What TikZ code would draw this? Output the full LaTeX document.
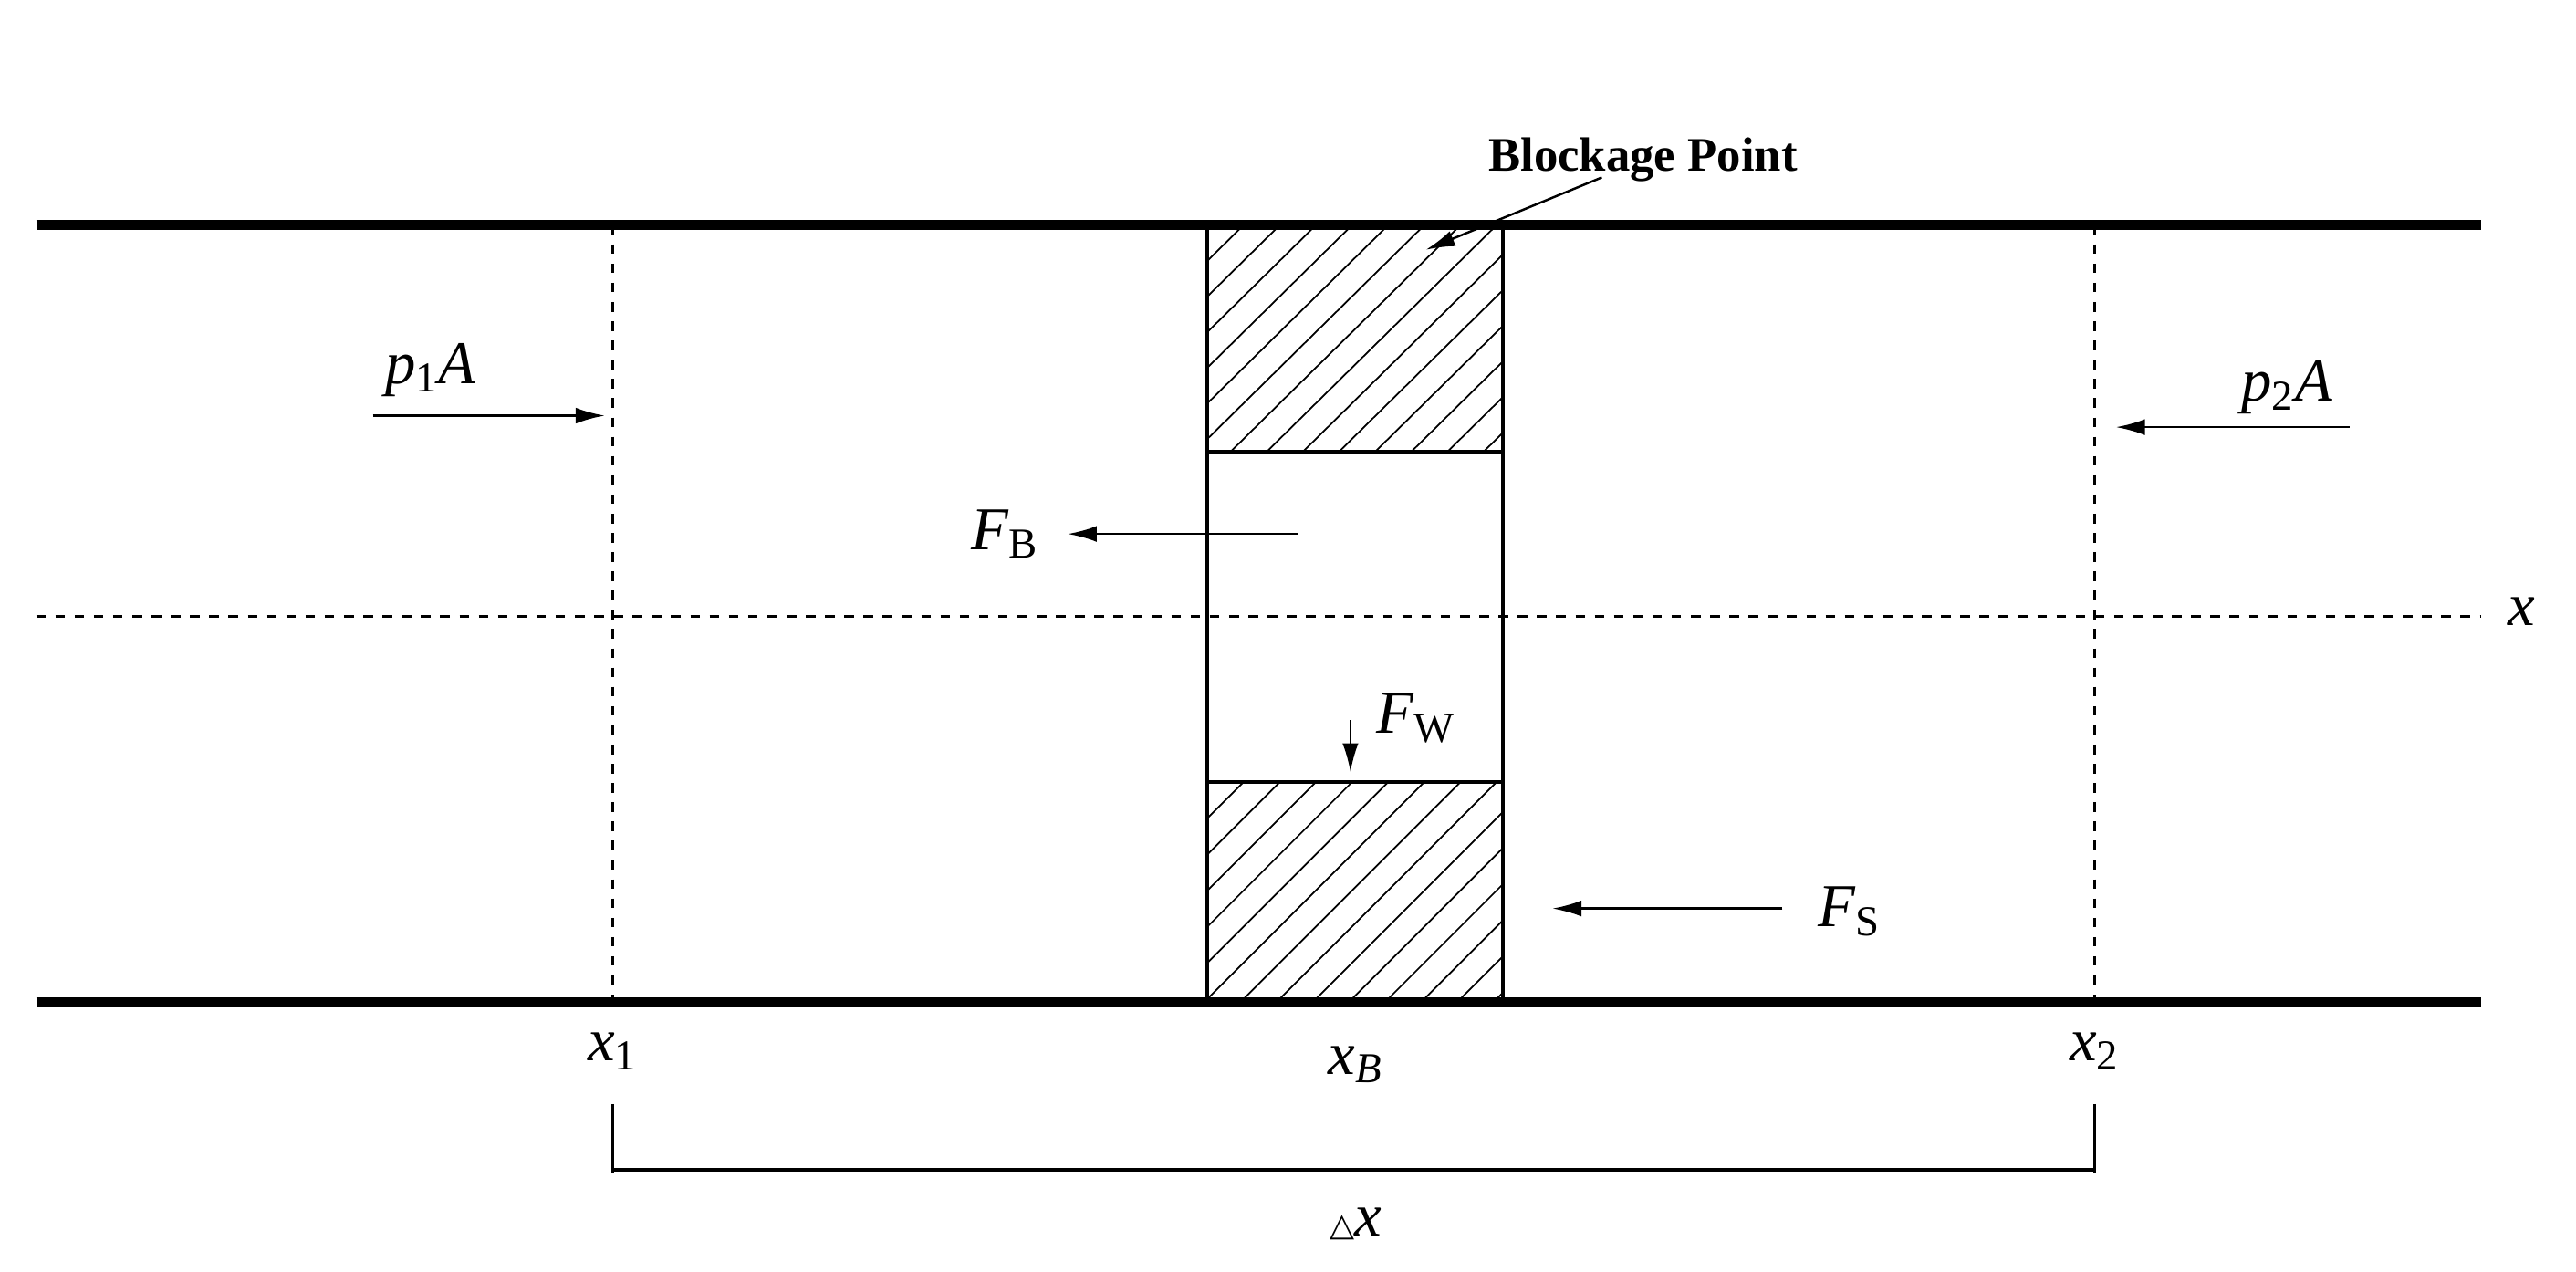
\documentclass[tikz,border=0pt]{standalone}
\usepackage{fontspec}
\setmainfont{Liberation Serif}
\newfontfamily\dvs{DejaVu Sans}
\usetikzlibrary{arrows.meta}
\begin{document}
\begin{tikzpicture}[x=0.018cm,y=-0.018cm,
 wall/.style={line width=3.2pt},
 dashln/.style={dashed,line width=0.8pt},
 hatch/.style={line width=0.5pt},
 force/.style={line width=0.7pt,-{Latex[length=9pt,width=5pt]}},
 lab/.style={font=\fontsize{19}{22}\selectfont\itshape}]
\useasboundingbox (0,0) rectangle (1568,774);
\begin{scope}
\clip (735,137) rectangle (915,275);
\foreach \k in {0,...,14} {\draw[hatch] (735+\k*22-140,275)--(735+\k*22,137);}
\end{scope}
\begin{scope}
\clip (735,476) rectangle (915,610);
\foreach \k in {0,...,14} {\draw[hatch] (735+\k*22-134,610)--(735+\k*22,476);}
\end{scope}
\draw[line width=1.2pt] (735,137) rectangle (915,610) (735,275)--(915,275) (735,476)--(915,476);
\draw[wall] (22,137)--(1510,137) (22,610)--(1510,610);
\draw[dashln] (373,137)--(373,610) (1275,137)--(1275,610) (22,375)--(1510,375);
\node[lab] (xax) at (1535,372) {x};
\coordinate (p1s) at (227,253); \coordinate (p1e) at (368,253);
\draw[force] (p1s)--(p1e);
\node[lab] (p1) at (262,225) {p\textsubscript{\upshape 1}A};
\coordinate (p2s) at (1430,260); \coordinate (p2e) at (1288,260);
\draw[force] (p2s)--(p2e);
\node[lab] (p2) at (1392,236) {p\textsubscript{\upshape 2}A};
\coordinate (fbs) at (790,325); \coordinate (fbe) at (650,325);
\draw[force] (fbs)--(fbe);
\node[lab] (fb) at (612,325) {F\textsubscript{\upshape B}};
\coordinate (fws) at (822,438); \coordinate (fwe) at (822,470);
\draw[force] (fws)--(fwe);
\node[lab] (fw) at (862,437) {F\textsubscript{\upshape W}};
\coordinate (fss) at (1085,553); \coordinate (fse) at (945,553);
\draw[force] (fss)--(fse);
\node[lab] (fs) at (1126,555) {F\textsubscript{\upshape S}};
\node[font=\fontsize{15}{18}\selectfont\bfseries] (bp) at (1000,97) {Blockage Point};
\coordinate (bps) at (975,108); \coordinate (bpe) at (868,152);
\draw[force] (bps)--(bpe);
\node[lab] (x1) at (373,640) {x\textsubscript{\upshape 1}};
\node[lab] (xb) at (825,648) {x\textsubscript{B}};
\node[lab] (x2) at (1275,640) {x\textsubscript{\upshape 2}};
\coordinate (d1a) at (373,672); \coordinate (d1b) at (373,714);
\coordinate (d2a) at (1275,672); \coordinate (d2b) at (1275,714);
\draw[line width=1pt] (d1a)--(d1b) (d2a)--(d2b) (373,712)--(1275,712);
\node[lab] (dx) at (825,745) {{\upshape\dvs\fontsize{10}{12}\selectfont △}x};
\end{tikzpicture}
\end{document}
